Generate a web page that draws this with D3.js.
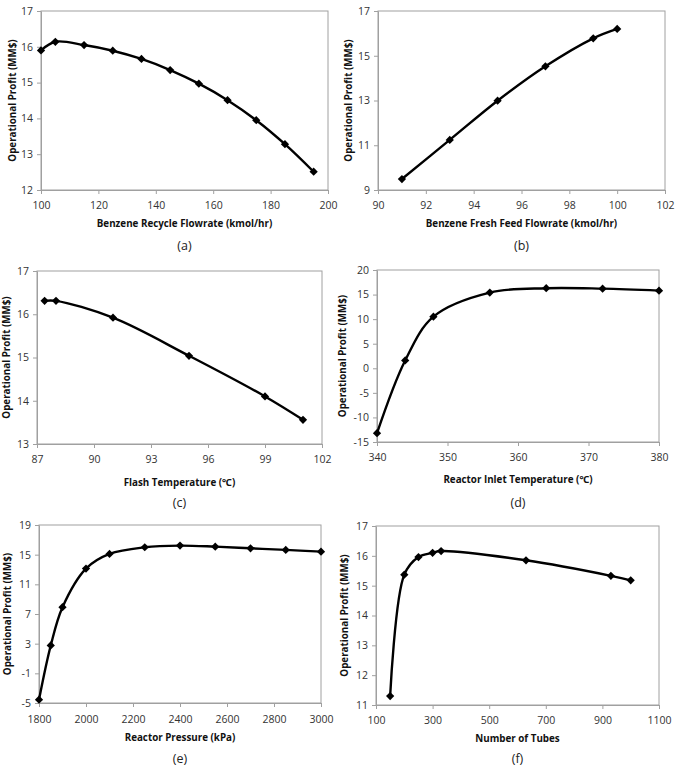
<!DOCTYPE html>
<html>
<head>
<meta charset="utf-8">
<script src="https://cdn.jsdelivr.net/npm/d3@7"></script>
<style>
  body { margin: 0; background: #fff; }
  text { font-family: "Open Sans", "Noto Sans", sans-serif; }
</style>
</head>
<body>
<script>
// (a) benzene recycle flowrate
const recycleX = [100, 105, 115, 125, 135, 145, 155, 165, 175, 185, 195];
const recycleY = [15.90, 16.14, 16.05, 15.89, 15.66, 15.35, 14.97, 14.51, 13.95, 13.28, 12.51];
// (b) benzene fresh feed flowrate
const feedX = [91, 93, 95, 97, 99, 100];
const feedY = [9.49, 11.24, 12.99, 14.53, 15.78, 16.20];
// (c) flash temperature
const flashX = [87.4, 88, 91, 95, 99, 101];
const flashY = [16.31, 16.31, 15.92, 15.04, 14.10, 13.56];
// (d) reactor inlet temperature
const inletX = [340, 344, 348, 356, 364, 372, 380];
const inletY = [-13.2, 1.6, 10.5, 15.4, 16.3, 16.2, 15.8];
// (e) reactor pressure
const pressX = [1800, 1850, 1900, 2000, 2100, 2250, 2400, 2550, 2700, 2850, 3000];
const pressY = [-4.55, 2.76, 7.92, 13.12, 15.10, 16.00, 16.22, 16.08, 15.86, 15.64, 15.41];
// (f) number of tubes
const tubesX = [150, 200, 250, 300, 330, 630, 930, 1000];
const tubesY = [11.30, 15.37, 15.96, 16.10, 16.16, 15.85, 15.33, 15.18];

const yTitle = "Operational Profit (MM$)";

const panels = [
  {xs: recycleX, ys: recycleY, xd: [100, 200], xt: d3.range(100, 201, 20), yd: [12, 17], yt: d3.range(12, 18, 1),
   xl: "Benzene Recycle Flowrate (kmol/hr)", cap: "(a)",
   box: [41, 328, 11, 190], tl: 205, ti: 223, cp: 245, yo: 29},
  {xs: feedX, ys: feedY, xd: [90, 102], xt: d3.range(90, 103, 2), yd: [9, 17], yt: d3.range(9, 18, 2),
   xl: "Benzene Fresh Feed Flowrate (kmol/hr)", cap: "(b)",
   box: [378, 665, 11, 190], tl: 205, ti: 223, cp: 245, yo: 30},
  {xs: flashX, ys: flashY, xd: [87, 102], xt: d3.range(87, 103, 3), yd: [13, 17], yt: d3.range(13, 18, 1),
   xl: "Flash Temperature (\u2103)", cap: "(c)",
   box: [37, 322, 271, 444], tl: 459, ti: 482, cp: 502, yo: 31},
  {xs: inletX, ys: inletY, xd: [340, 380], xt: d3.range(340, 381, 10), yd: [-15, 20], yt: d3.range(-15, 21, 5),
   xl: "Reactor Inlet Temperature (\u2103)", cap: "(d)",
   box: [377, 659, 270, 442], tl: 457, ti: 479, cp: 502, yo: 35},
  {xs: pressX, ys: pressY, xd: [1800, 3000], xt: d3.range(1800, 3001, 200), yd: [-5, 19], yt: d3.range(-5, 20, 4),
   xl: "Reactor Pressure (kPa)", cap: "(e)",
   box: [39, 321, 525, 703], tl: 719, ti: 737, cp: 758, yo: 32},
  {xs: tubesX, ys: tubesY, xd: [100, 1100], xt: d3.range(100, 1101, 200), yd: [11, 17], yt: d3.range(11, 18, 1),
   xl: "Number of Tubes", cap: "(f)",
   box: [376, 659, 526, 705], tl: 720, ti: 738, cp: 758, yo: 32}
];

const svg = d3.select("body").append("svg")
    .attr("width", 677)
    .attr("height", 769);

// square turned 45 degrees, like the spreadsheet diamond marker
const diamond = d3.symbol().type(d3.symbolSquare).size(34);
const plain = d => String(d);

panels.forEach(p => {
    const [l, r, t, b] = p.box;
    const x = d3.scaleLinear().domain(p.xd).range([l, r]);
    const y = d3.scaleLinear().domain(p.yd).range([b, t]);
    const g = svg.append("g");

    // plot frame
    g.append("rect")
        .attr("x", l).attr("y", t)
        .attr("width", r - l).attr("height", b - t)
        .attr("fill", "none").attr("stroke", "#a0a0a0").attr("stroke-width", 1);

    const ax = g.append("g")
        .attr("transform", `translate(0,${b})`)
        .call(d3.axisBottom(x).tickValues(p.xt).tickFormat(plain).tickSize(4).tickSizeOuter(0));
    const ay = g.append("g")
        .attr("transform", `translate(${l},0)`)
        .call(d3.axisLeft(y).tickValues(p.yt).tickFormat(plain).tickSize(4).tickSizeOuter(0).tickPadding(4));
    [ax, ay].forEach(a => {
        a.select(".domain").attr("stroke", "#a0a0a0");
        a.selectAll(".tick line").attr("stroke", "#a0a0a0");
        a.selectAll("text").attr("font-size", 10.5).attr("fill", "#333")
            .attr("font-family", "Open Sans, sans-serif");
    });
    ax.selectAll("text").attr("y", p.tl - b).attr("dy", null)
        .attr("dominant-baseline", "central");

    const pts = p.xs.map((v, i) => [x(v), y(p.ys[i])]);
    g.append("path")
        .attr("d", d3.line().curve(d3.curveCatmullRom.alpha(0.5))(pts))
        .attr("fill", "none").attr("stroke", "#000").attr("stroke-width", 2.4);
    g.selectAll(".pt").data(pts).enter().append("path")
        .attr("transform", d => `translate(${d[0]},${d[1]}) rotate(45)`)
        .attr("d", diamond).attr("fill", "#000");

    g.append("text")
        .attr("x", (l + r) / 2).attr("y", p.ti)
        .attr("text-anchor", "middle").attr("dominant-baseline", "central")
        .attr("font-size", 9.8).attr("font-weight", "bold").attr("fill", "#111")
        .text(p.xl);
    g.append("text")
        .attr("transform", `translate(${l - p.yo},${(t + b) / 2}) rotate(-90)`)
        .attr("text-anchor", "middle").attr("dominant-baseline", "central")
        .attr("font-size", 9.8).attr("font-weight", "bold").attr("fill", "#111")
        .text(yTitle);
    g.append("text")
        .attr("x", (l + r) / 2).attr("y", p.cp)
        .attr("text-anchor", "middle").attr("dominant-baseline", "central")
        .attr("font-size", 12.5).attr("fill", "#222")
        .text(p.cap);
});
</script>
</body>
</html>
